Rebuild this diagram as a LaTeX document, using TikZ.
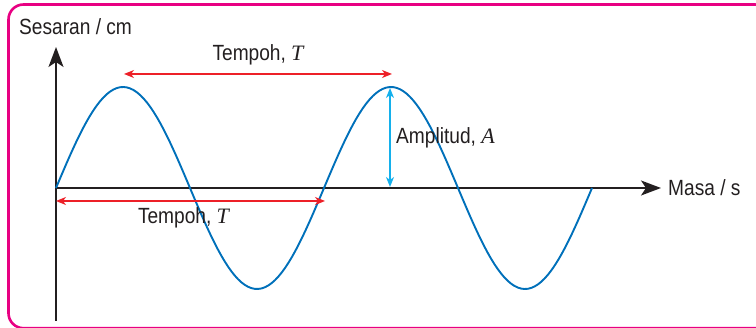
\documentclass[tikz,border=0pt]{standalone}
\usepackage{fontspec}
\setmainfont{Liberation Sans}[FakeStretch=0.87]
\newfontfamily\varfont{Liberation Serif}
\usetikzlibrary{positioning, arrows.meta}
\definecolor{framepink}{RGB}{232,0,130}
\definecolor{waveblue}{RGB}{0,112,186}
\definecolor{periodred}{RGB}{237,32,40}
\definecolor{ampcyan}{RGB}{20,176,236}
\definecolor{axisgrey}{RGB}{35,31,32}
\newcommand{\qty}[1]{{\varfont\itshape #1}}

\begin{document}
\begin{tikzpicture}[
    x=1pt, y=-1pt,
    font=\fontsize{22}{24}\selectfont,
    every node/.style={text=axisgrey, inner sep=0pt},
    axis/.style={draw=axisgrey, line width=2pt, -{Stealth[length=20pt, width=15pt, inset=5pt]}},
    wave/.style={draw=waveblue, line width=1.9pt},
    period/.style={draw=periodred, line width=1.5pt, {Stealth[length=10pt, width=8pt, inset=3pt]}-{Stealth[length=10pt, width=8pt, inset=3pt]}},
    amp/.style={draw=ampcyan, line width=1.5pt, {Stealth[length=10pt, width=8pt, inset=3pt]}-{Stealth[length=10pt, width=8pt, inset=3pt]}},
    lbl/.style={font=\fontsize{22}{24}\selectfont},
]
\useasboundingbox (0,0) rectangle (756,328);

% ---------------------------------------------------------------- frame ---
\begin{scope}
  \clip (0,0) rectangle (756,328);
  \draw[framepink, line width=2.6pt, rounded corners=15pt] (8.5,4.5) rectangle (770,328.2);
\end{scope}

% ----------------------------------------------------------------- axes ---
\coordinate (O) at (56,188);
\coordinate (ybot) at (56,321);
\coordinate (ytop) at (56,47);
\coordinate (xend) at (661,188);
\draw[axis] (ybot) -- (ytop);
\draw[axis] (O) -- (xend);
\node[lbl, anchor=base west] (ylab) at (19,35) {Sesaran / cm};
\node[lbl, anchor=west, right=7pt of xend] (xlab) {Masa / s};

% ----------------------------------------------------------------- wave ---
\draw[wave] plot[domain=0:536, samples=160] ({56+\x}, {188-101*sin(\x/268*360)});

% ------------------------------------------------------------- period T ---
\coordinate (crest1) at (124,74);
\coordinate (crest2) at (392,74);
\draw[period] (crest1) -- node[lbl, above=8pt] (tlab1) {Tempoh, \qty{T}} (crest2);

\coordinate (zero1) at (56,201);
\coordinate (zero3) at (325,201);
\draw[period] (zero1) -- node[lbl, below=6pt, xshift=-7pt] (tlab2) {Tempoh, \qty{T}} (zero3);

% ------------------------------------------------------------ amplitude ---
\coordinate (peak) at (390,88);
\coordinate (base) at (390,187);
\draw[amp] (peak) -- (base);
\node[lbl, anchor=west] (alab) at (396,138) {Amplitud, \qty{A}};

\end{tikzpicture}
\end{document}
